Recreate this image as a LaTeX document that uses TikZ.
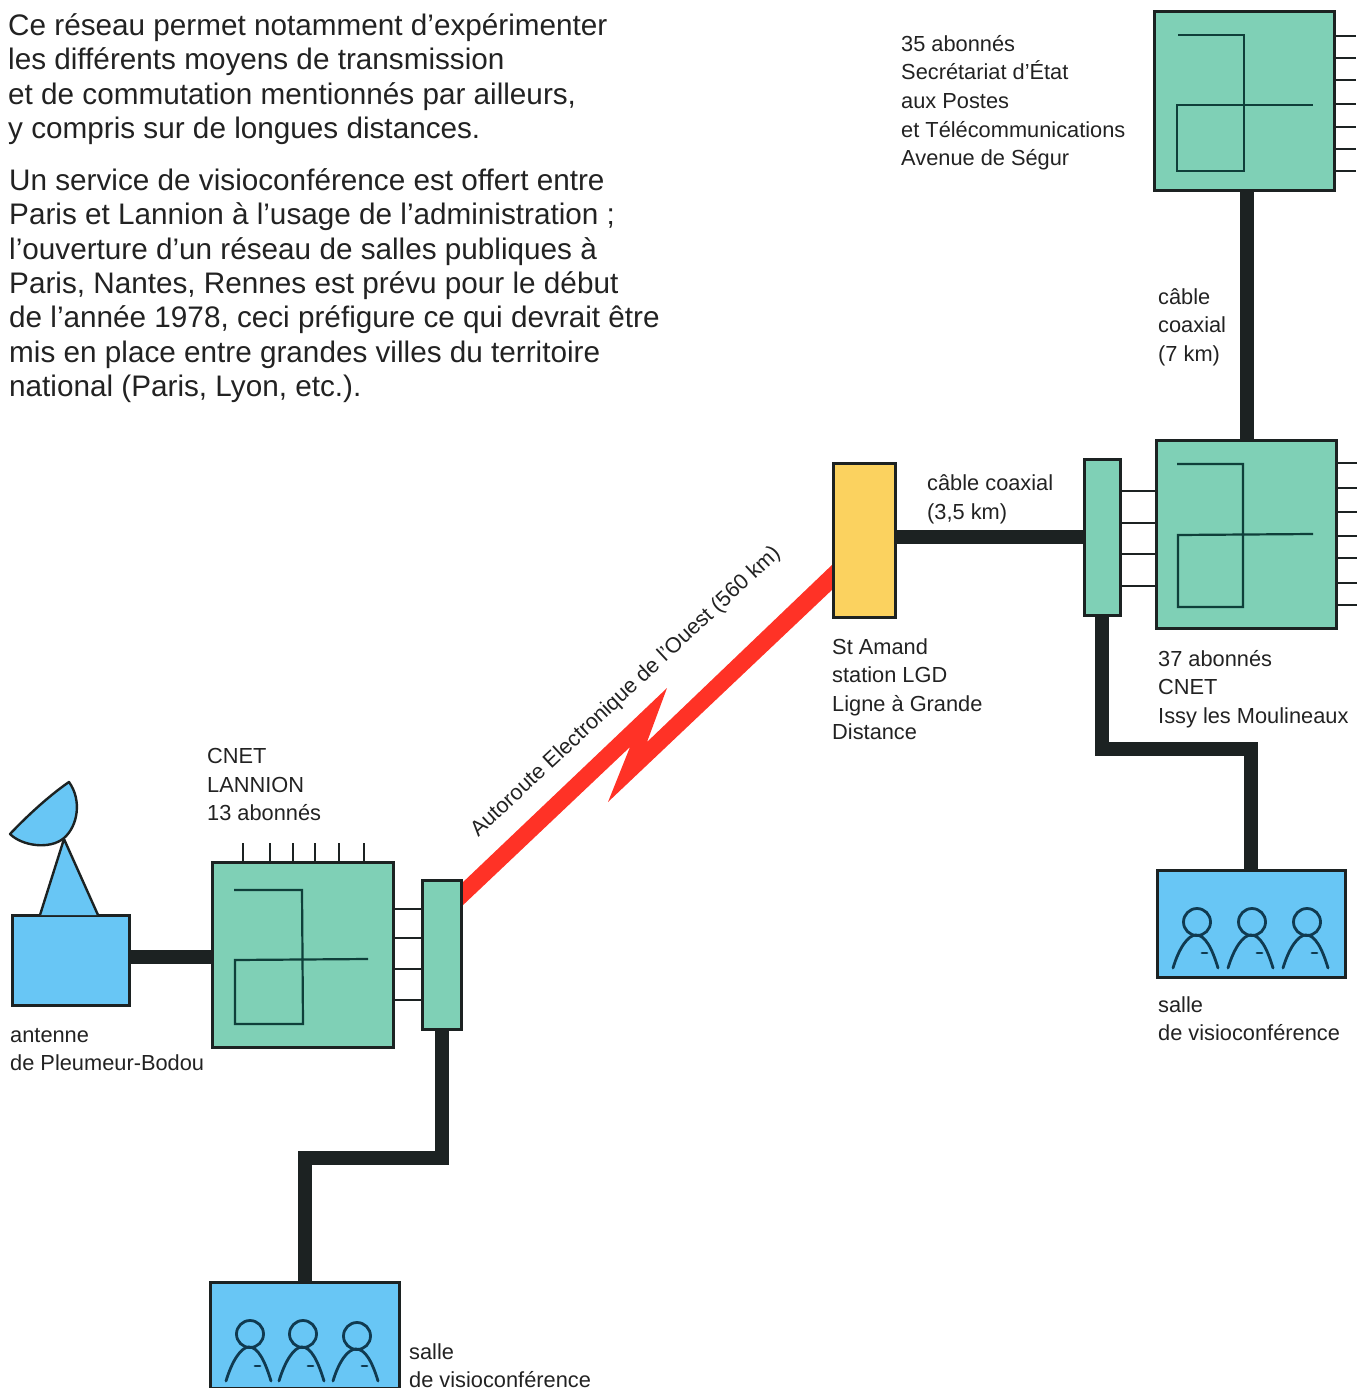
\documentclass[tikz,border=0pt]{standalone}
\usepackage{fontspec}
\setmainfont{Liberation Sans}
\definecolor{tealbox}{HTML}{7FD0B6}
\definecolor{skybox}{HTML}{68C6F5}
\definecolor{yellowbox}{HTML}{FBD25F}
\definecolor{inkline}{HTML}{1C2222}
\definecolor{crossline}{HTML}{0F3F3A}
\definecolor{personline}{HTML}{103A50}
\definecolor{boltred}{HTML}{FF3226}
\definecolor{textink}{HTML}{222222}
\tikzset{
  basebox/.style={draw=inkline,line width=3pt,inner sep=0pt,outer sep=0pt,anchor=north west},
  greenbox/.style={basebox,fill=tealbox},
  bluebox/.style={basebox,fill=skybox},
  yellowb/.style={basebox,fill=yellowbox},
  coax/.style={draw=inkline,line width=14pt},
  thinlink/.style={draw=inkline,line width=1.8pt},
  crossing/.style={draw=crossline,line width=2.2pt,line join=miter},
  personstyle/.style={draw=personline,line width=2.8pt,line cap=round},
  paratext/.style={font=\fontsize{29.7}{34.3}\selectfont,text=textink,align=left,anchor=north west,inner sep=0pt},
  lab/.style={font=\fontsize{21.8}{28.6}\selectfont,text=textink,align=left,anchor=north west,inner sep=0pt},
}
\newcommand{\drawperson}[3]{% x, head y, bottom y
  \draw[personstyle] (#1,#2) circle (13.5);
  \draw[personstyle] (#1-24,#3) .. controls (#1-18,#3-20) and (#1-9,#2+13) .. (#1-1,#2+13)
     .. controls (#1+8,#2+13) and (#1+15,#3-20) .. (#1+21,#3);
  \draw[personstyle] (#1+5,#3-15) -- (#1+10,#3-15);
}
\begin{document}
\begin{tikzpicture}[x=1pt,y=-1pt]
\useasboundingbox (0,0) rectangle (1367,1388);
% bolt
\fill[boltred] (834,563) -- (647,742) -- (667,688) -- (461,884) -- (461,907) -- (630,747) -- (608,802) -- (834,588) -- cycle;
% boxes
\node[greenbox,minimum width=180pt,minimum height=179pt] (gtop) at (1154,12) {};
\node[greenbox,minimum width=180pt,minimum height=188pt] (gmid) at (1156,440) {};
\node[greenbox,minimum width=36pt,minimum height=156pt] (cmid) at (1084,459) {};
\node[yellowb,minimum width=62pt,minimum height=154pt] (lgd) at (833,463) {};
\node[bluebox,minimum width=188pt,minimum height=107pt] (sright) at (1157,870) {};
\node[greenbox,minimum width=181pt,minimum height=185pt] (gleft) at (212,862) {};
\node[greenbox,minimum width=39pt,minimum height=149pt] (cleft) at (422,880) {};
\node[bluebox,minimum width=117pt,minimum height=90pt] (ant) at (12,915) {};
\node[bluebox,minimum width=189pt,minimum height=106pt] (sleft) at (210,1282) {};
% dish
\filldraw[fill=skybox,draw=inkline,line width=2.4pt,line join=round] (40,915) -- (64,839) -- (98,915);
\filldraw[fill=skybox,draw=inkline,line width=2.4pt,line join=round]
  (69,782) .. controls (50,795) and (28,815) .. (10,834)
  .. controls (22,846) and (50,850) .. (64,838)
  .. controls (78,826) and (82,800) .. (69,782) -- cycle;
% coax
\coordinate (tv) at (1247,0);
\draw[coax] (tv |- gtop.south) -- (tv |- gmid.north);
\coordinate (hm) at (0,537);
\draw[coax] (lgd.east |- hm) -- (cmid.west |- hm);
\coordinate (jr) at (1251,749);
\draw[coax] (1102,614) |- (jr) -- (sright.north);
\coordinate (hl) at (0,957);
\draw[coax] (ant.east |- hl) -- (gleft.west |- hl);
\coordinate (jl) at (304.5,1158);
\draw[coax] (442,1028) |- (jl) -- (sleft.north);
% links
\foreach \yy in {491,523,554,586} {\draw[thinlink] (cmid.east |- 0,\yy) -- (gmid.west |- 0,\yy);}
\foreach \yy in {909,938,969,1000} {\draw[thinlink] (gleft.east |- 0,\yy) -- (cleft.west |- 0,\yy);}
\foreach \yy in {36,58,80,104,127,149,171} {\draw[thinlink] (gtop.east |- 0,\yy) -- ++(22,0);}
\foreach \yy in {463,488,512,536,558,583,605} {\draw[thinlink] (gmid.east |- 0,\yy) -- ++(21,0);}
\foreach \xx in {243,270,293,315,339,364} {\draw[thinlink] (\xx,0 |- gleft.north) -- ++(0,-19);}
% crosses
\draw[crossing] (1178,35) -- (1244,35) -- (1244,171) -- (1177,171) -- (1177,105) -- (1313,105);
\draw[crossing] (1177,464) -- (1243,464) -- (1243,607) -- (1178,607) -- (1178,535) -- (1313,534);
\draw[crossing] (234,890) -- (302,890) -- (303,1024) -- (235,1024) -- (235,960) -- (368,959);
% people
\foreach \px in {1197,1252,1307} {\drawperson{\px}{922}{968}}
\foreach \px/\hy in {250/1334,303/1334,357/1336} {\drawperson{\px}{\hy}{1381}}
% text
\node[paratext] (p1) at (8,13.5) {Ce réseau permet notamment d’expérimenter\\les différents moyens de transmission\\et de commutation mentionnés par ailleurs,\\y compris sur de longues distances.};
\node[paratext] (p2) at (9,168.5) {Un service de visioconférence est offert entre\\Paris et Lannion à l’usage de l’administration ;\\l’ouverture d’un réseau de salles publiques à\\Paris, Nantes, Rennes est prévu pour le début\\de l’année 1978, ceci préfigure ce qui devrait être\\mis en place entre grandes villes du territoire\\national (Paris, Lyon, etc.).};
\node[lab] (l1) at (901,35) {35 abonnés\\Secrétariat d’État\\aux Postes\\et Télécommunications\\Avenue de Ségur};
\node[lab] (l2) at (1158,288) {câble\\coaxial\\(7 km)};
\node[lab] (l3) at (927,474.5) {câble coaxial\\(3,5 km)};
\node[lab] (l4) at (832,638) {St Amand\\station LGD\\Ligne à Grande\\Distance};
\node[lab] (l5) at (1158,650) {37 abonnés\\CNET\\Issy les Moulineaux};
\node[lab] (l6) at (1158,996) {salle\\de visioconférence};
\node[lab] (l7) at (207,748) {CNET\\LANNION\\13 abonnés};
\node[lab] (l8) at (10,1028) {antenne\\de Pleumeur-Bodou};
\node[lab] (l9) at (409,1343) {salle\\de visioconférence};
\node[font=\fontsize{21.6}{24}\selectfont,text=textink,rotate=43,inner sep=0pt] (l10) at (626,692) {Autoroute Electronique de l’Ouest (560 km)};
\end{tikzpicture}
\end{document}
